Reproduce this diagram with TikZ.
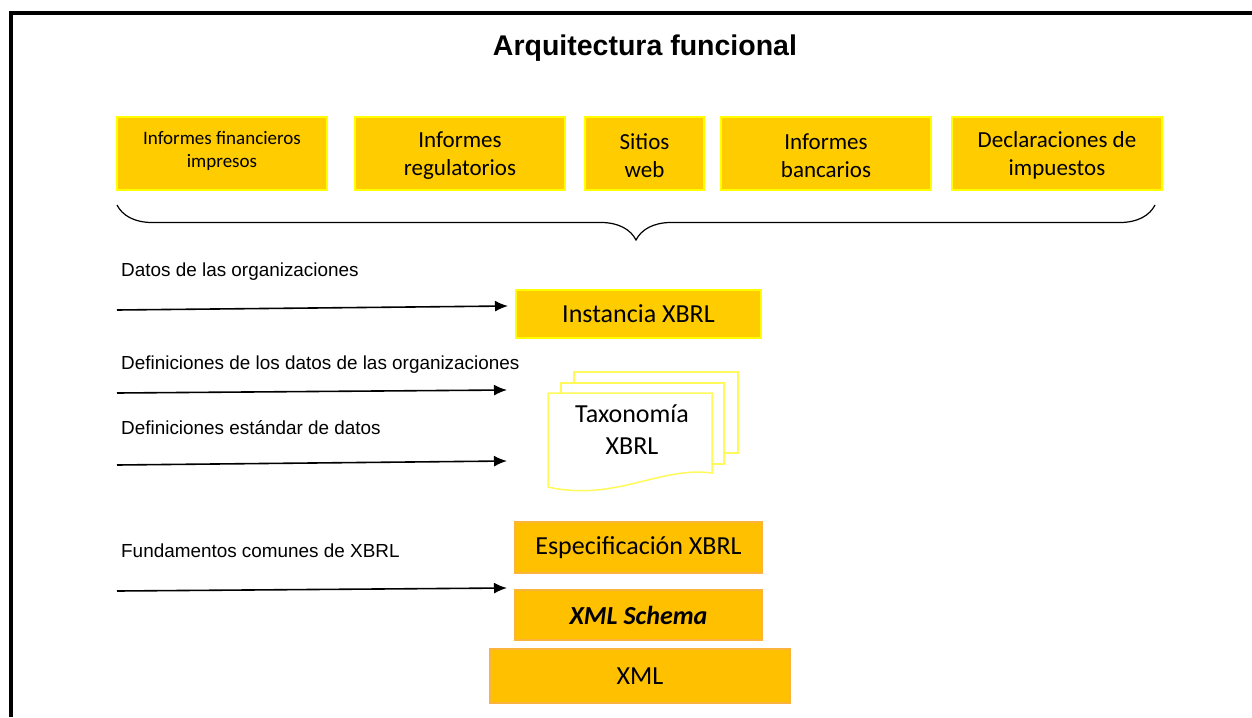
\documentclass[tikz,border=0pt]{standalone}
\usepackage{fontspec}
\setmainfont{Carlito}
\newfontfamily\arialfont{Liberation Sans}
\usetikzlibrary{arrows.meta,decorations.pathreplacing}

\definecolor{boxgold}{RGB}{255,204,0}
\definecolor{boxedge}{RGB}{255,255,0}
\definecolor{baseorange}{RGB}{255,192,0}
\definecolor{baseedge}{RGB}{250,180,60}
\definecolor{docedge}{RGB}{255,250,90}

\tikzset{
  topbox/.style={fill=boxgold, draw=boxedge, line width=1.2pt, inner sep=0pt,
    minimum height=73pt, align=center, font=\fontsize{23}{28}\selectfont},
  boxtext/.style={label={[align=center, inner sep=0pt, yshift=#1]center:}},
  basebox/.style={fill=baseorange, draw=baseedge, line width=1.2pt, inner sep=0pt,
    font=\fontsize{26}{30}\selectfont},
  flowlabel/.style={anchor=west, inner sep=0pt, font=\arialfont\fontsize{18.9}{22}\selectfont},
  flowarrow/.style={line width=1.6pt, -{Latex[length=13pt,width=11pt]}},
  docsheet/.style={fill=white, draw=docedge, line width=1.5pt}
}

\begin{document}
\begin{tikzpicture}[x=1pt,y=-1pt]
  \useasboundingbox (0,0) rectangle (1252,717);

  % partial frame
  \draw[line width=4pt] (11.3,717) -- (11.3,13) -- (1252,13);

  % title
  \node[font=\arialfont\bfseries\fontsize{28.5}{32}\selectfont] (title) at (645,48) {Arquitectura funcional};

  % output formats (text placed as centred labels so it can sit off-centre)
  \node[topbox, minimum width=210pt,
        label={[align=center, yshift=3pt, font=\fontsize{19}{23}\selectfont]center:Informes financieros\\impresos}]
        (impresos) at (222,153.5) {};
  \node[topbox, minimum width=210pt,
        label={[align=center, yshift=-2pt, font=\fontsize{23}{28}\selectfont]center:Informes\\regulatorios}]
        (regul) at (460,153.5) {};
  \node[topbox, minimum width=119pt,
        label={[align=center, yshift=-2pt, font=\fontsize{23}{28}\selectfont]center:Sitios\\web}]
        (web) at (644.5,153.5) {};
  \node[topbox, minimum width=210pt,
        label={[align=center, yshift=-2pt, font=\fontsize{23}{28}\selectfont]center:Informes\\bancarios}]
        (banc) at (826,153.5) {};
  \node[topbox, minimum width=210pt,
        label={[align=center, yshift=-2pt, font=\fontsize{23}{28}\selectfont]center:Declaraciones de\\impuestos}]
        (impuestos) at (1057,153.5) {};

  % brace gathering the outputs
  \coordinate (braceL) at (117,205);
  \coordinate (braceR) at (1155,205);
  \draw[line width=1.2pt, decorate, decoration={brace, mirror, amplitude=35pt}] (braceL) -- (braceR);

  % instance
  \node[topbox, minimum width=245pt, minimum height=48pt, font=\fontsize{26}{30}\selectfont] (instancia) at (638.5,314) {Instancia XBRL};

  % taxonomy: stack of documents
  \draw[docsheet] (574,372) rectangle (738,453);
  \draw[docsheet] (561,383) rectangle (724,464);
  \draw[docsheet] (548,393) -- (712,393) -- (712,473)
     .. controls (660,466) and (615,502) .. (548,487) -- cycle;
  \node[align=center, font=\fontsize{26}{32}\selectfont] (taxonomia) at (632,430) {Taxonomía\\XBRL};

  % base layers
  \node[basebox, minimum width=247pt, minimum height=51pt] (espec) at (638.5,547.5) {Especificación XBRL};
  \node[basebox, minimum width=247pt, minimum height=50pt] (schema) at (638.5,615) {\bfseries\itshape XML Schema};
  \node[basebox, minimum width=300pt, minimum height=54pt] (xml) at (640,676) {XML};

  % incoming data flows
  \node[flowlabel] (l1) at (121,272) {Datos de las organizaciones};
  \node[flowlabel] (l2) at (121,365) {Definiciones de los datos de las organizaciones};
  \node[flowlabel] (l3) at (121,428) {Definiciones estándar de datos};
  \node[flowlabel] (l4) at (121,551) {Fundamentos comunes de XBRL};

  \coordinate (s1) at (117,310); \coordinate (e1) at (508,306);
  \coordinate (s2) at (117,393); \coordinate (e2) at (507,390);
  \coordinate (s3) at (117,465); \coordinate (e3) at (507,461);
  \coordinate (s4) at (117,591); \coordinate (e4) at (507,588);
  \draw[flowarrow] (s1) -- (e1);
  \draw[flowarrow] (s2) -- (e2);
  \draw[flowarrow] (s3) -- (e3);
  \draw[flowarrow] (s4) -- (e4);
\end{tikzpicture}
\end{document}
